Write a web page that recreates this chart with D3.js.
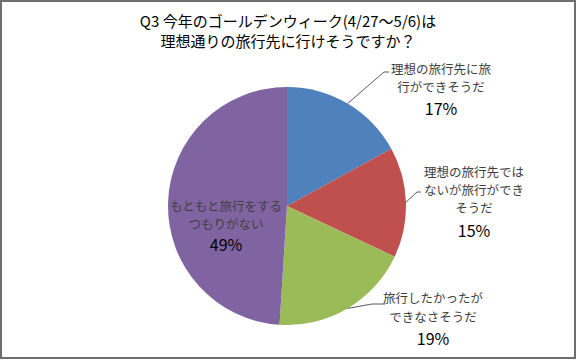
<!DOCTYPE html>
<html>
<head>
<meta charset="utf-8">
<script src="https://cdn.jsdelivr.net/npm/d3@7"></script>
<style>
html,body{margin:0;padding:0;background:#fff;}
svg{display:block;}
</style>
</head>
<body>
<svg id="chart" width="577" height="361"></svg>
<script>
// ---- data ----
const titleLines = ["Q3 今年のゴールデンウィーク(4/27～5/6)は", "理想通りの旅行先に行けそうですか？"];
const categories = [
  ["理想の旅行先に旅", "行ができそうだ"],
  ["理想の旅行先では", "ないが旅行ができ", "そうだ"],
  ["旅行したかったが", "できなさそうだ"],
  ["もともと旅行をする", "つもりがない"]
];
const values = [17, 15, 19, 49];
const percentLabels = ["17%", "15%", "19%", "49%"];
const colors = ["#4F81BD", "#C0504D", "#9BBB59", "#8064A2"];

// ---- layout ----
const W = 577, H = 361;
const cx = 287, cy = 206, R = 119;
const font = "'Noto Sans CJK JP', 'Noto Sans', sans-serif";
const labelSize = 12.5;
// label anchor (centre x, first-line centre y), line gap, leader elbow point
const labelLayout = [
  {x: 441, y: 68, gap: 18.3, pctGap: 22, elbow: [384, 72], end: [389, 72]},
  {x: 474, y: 171, gap: 18.3, pctGap: 22, elbow: [417, 192], end: [421, 192]},
  {x: 433, y: 297, gap: 19, pctGap: 22, elbow: [372, 304], end: [385, 304]},
  {x: 226, y: 205, gap: 18.3, pctGap: 21, elbow: null}
];

const svg = d3.select("#chart");

// border
svg.append("rect").attr("x", 1).attr("y", 1).attr("width", W - 3).attr("height", H - 4)
  .attr("fill", "#fff").attr("stroke", "#6e6e6e").attr("stroke-width", 2);

// title
svg.append("g").selectAll("text").data(titleLines).join("text")
  .attr("x", 288).attr("y", (d, i) => 20 + i * 20)
  .attr("text-anchor", "middle").attr("dominant-baseline", "central")
  .attr("font-family", font).attr("font-size", 15).attr("fill", "#000")
  .text(d => d);

// pie
const pie = d3.pie().sort(null).value(d => d);
const arcs = pie(values);
const arc = d3.arc().innerRadius(0).outerRadius(R);
const g = svg.append("g").attr("transform", `translate(${cx},${cy})`);
g.selectAll("path").data(arcs).join("path")
  .attr("d", arc).attr("fill", (d, i) => colors[i]);

// leader lines
arcs.forEach((a, i) => {
  const L = labelLayout[i];
  if (!L.elbow) return;
  const mid = (a.startAngle + a.endAngle) / 2;
  const sx = cx + R * Math.sin(mid), sy = cy - R * Math.cos(mid);
  svg.append("polyline")
    .attr("points", [[sx, sy], L.elbow, L.end].map(p => p.join(",")).join(" "))
    .attr("fill", "none").attr("stroke", "#595959").attr("stroke-width", 1);
});

// labels
categories.forEach((lines, i) => {
  const L = labelLayout[i];
  const lg = svg.append("g");
  lines.forEach((t, j) => {
    lg.append("text").attr("x", L.x).attr("y", L.y + j * L.gap)
      .attr("text-anchor", "middle").attr("dominant-baseline", "central")
      .attr("font-family", font).attr("font-size", labelSize).attr("fill", "#404040")
      .text(t);
  });
  lg.append("text").attr("x", L.x).attr("y", L.y + (lines.length - 1) * L.gap + L.pctGap)
    .attr("text-anchor", "middle").attr("dominant-baseline", "central")
    .attr("font-family", font).attr("font-size", 16).attr("fill", "#000")
    .text(percentLabels[i]);
});
</script>
</body>
</html>
